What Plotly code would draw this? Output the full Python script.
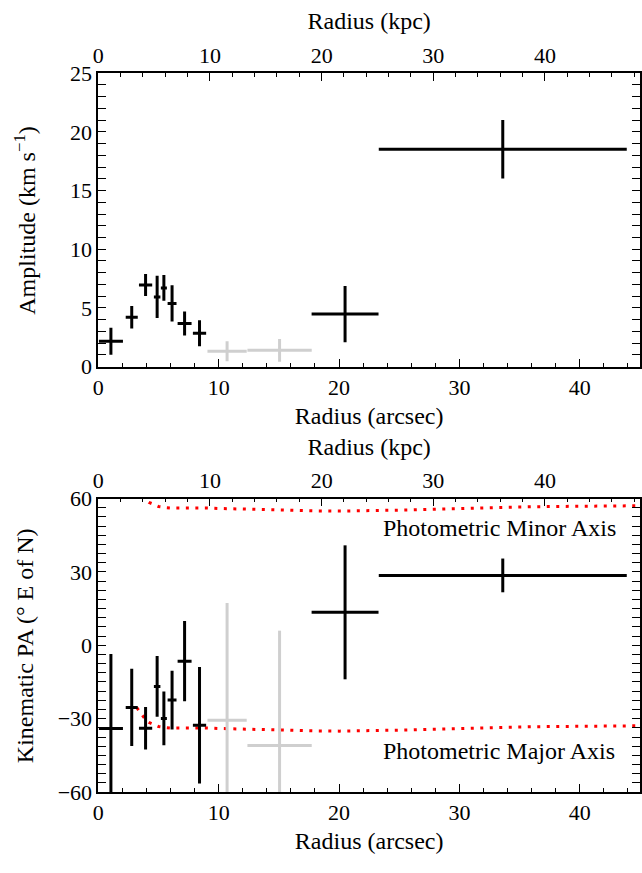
import plotly.graph_objects as go

# ---- data ----
r_arcsec = [1.05, 2.78, 3.93, 4.89, 5.45, 6.13, 7.17, 8.41, 20.5, 33.6]
r_err = [1.0, 0.5, 0.55, 0.27, 0.25, 0.37, 0.58, 0.55, 2.78, 10.3]
amplitude = [2.15, 4.2, 6.95, 5.93, 6.7, 5.38, 3.67, 2.84, 4.47, 18.52]
amplitude_err = [1.15, 0.95, 0.93, 1.8, 1.1, 1.55, 1.03, 1.1, 2.4, 2.5]
kin_pa = [-34.0, -25.4, -33.9, -16.8, -29.9, -22.4, -6.5, -32.7, 13.5, 28.6]
kin_pa_err = [30.5, 15.8, 8.7, 12.4, 11.0, 12.0, 16.4, 23.8, 27.4, 6.9]

r_grey = [10.7, 15.06]
r_grey_err = [1.63, 2.67]
amplitude_grey = [1.3, 1.38]
amplitude_grey_err = [0.85, 0.97]
kin_pa_grey = [-30.7, -41.0]
kin_pa_grey_err = [48.0, 47.0]

r_phot = [3.2, 3.5, 3.8, 4.2, 4.6, 5.0, 5.5, 6.0, 7.0, 8.0, 9.0, 10.0, 12.0, 14.0,
          16.0, 18.0, 20.0, 22.0, 24.0, 26.0, 28.0, 30.0, 32.0, 34.0, 36.0, 38.0,
          40.0, 42.0, 45.0]
pa_major = [-25.5, -27.5, -29.5, -31.5, -32.5, -33.2, -33.6, -33.8, -33.8, -33.7,
            -33.8, -34.0, -34.3, -34.6, -34.8, -35.0, -35.1, -35.0, -34.8, -34.6,
            -34.3, -34.0, -33.7, -33.5, -33.3, -33.2, -33.1, -33.0, -32.9]
pa_minor = [v + 90 for v in pa_major]

KPC_PER_ARCSEC = 1.078
X_MAX = 45

BLACK = "black"
GREY = "#cfcfcf"
FONT = "Liberation Serif"
FS = 22      # tick labels
FT = 24      # titles / annotations


def ebar(x, xe, y, ye, color, xa, ya):
    return go.Scatter(
        x=x, y=y, xaxis=xa, yaxis=ya, mode="markers",
        marker=dict(size=1, color=color, opacity=0),
        error_x=dict(type="data", array=xe, symmetric=True, color=color, thickness=3, width=0),
        error_y=dict(type="data", array=ye, symmetric=True, color=color, thickness=3, width=0),
        showlegend=False, hoverinfo="skip",
    )


fig = go.Figure()
# top panel
fig.add_trace(ebar(r_grey, r_grey_err, amplitude_grey, amplitude_grey_err, GREY, "x", "y"))
fig.add_trace(ebar(r_arcsec, r_err, amplitude, amplitude_err, BLACK, "x", "y"))
fig.add_trace(go.Scatter(x=[0], y=[0], xaxis="x2", yaxis="y", mode="markers",
                         marker=dict(size=1, opacity=0), showlegend=False, hoverinfo="skip"))
# bottom panel
fig.add_trace(go.Scatter(x=r_phot, y=pa_minor, xaxis="x3", yaxis="y3", mode="lines",
                         line=dict(color="red", width=3, dash="3px,6.5px"),
                         showlegend=False, hoverinfo="skip"))
fig.add_trace(go.Scatter(x=r_phot, y=pa_major, xaxis="x3", yaxis="y3", mode="lines",
                         line=dict(color="red", width=3, dash="3px,6.5px"),
                         showlegend=False, hoverinfo="skip"))
fig.add_trace(ebar(r_grey, r_grey_err, kin_pa_grey, kin_pa_grey_err, GREY, "x3", "y3"))
fig.add_trace(ebar(r_arcsec, r_err, kin_pa, kin_pa_err, BLACK, "x3", "y3"))
fig.add_trace(go.Scatter(x=[0], y=[0], xaxis="x4", yaxis="y3", mode="markers",
                         marker=dict(size=1, opacity=0), showlegend=False, hoverinfo="skip"))

W, H = 642, 873
xdom = [94 / W, 640 / W]
ydom_top = [1 - 365 / H, 1 - 63 / H]
ydom_bot = [1 - 803 / H, 1 - 501 / H]

common = dict(
    showline=True, linecolor="black", linewidth=1.6,
    ticks="inside", ticklen=8, tickwidth=1.4, tickcolor="black",
    showgrid=False, zeroline=False,
    tickfont=dict(family=FONT, size=FS, color="black"),
)


def minor(dt):
    return dict(dtick=dt, ticks="inside", ticklen=4, tickwidth=1.2, tickcolor="black", showgrid=False)


def xbot(anchor, title):
    return dict(common, domain=xdom, anchor=anchor, range=[0, X_MAX], dtick=10, tick0=0,
                minor=minor(2), title=dict(text=title, font=dict(family=FONT, size=FT), standoff=8))


def xtop(over, anchor):
    return dict(common, overlaying=over, anchor=anchor, side="top",
                range=[0, X_MAX * KPC_PER_ARCSEC], dtick=10, tick0=0, minor=minor(2),
                title=dict(text="Radius (kpc)", font=dict(family=FONT, size=FT), standoff=6))


fig.update_layout(
    width=W, height=H,
    margin=dict(l=0, r=0, t=0, b=0),
    paper_bgcolor="white", plot_bgcolor="white",
    font=dict(family=FONT, size=FS, color="black"),
    xaxis=xbot("y", "Radius (arcsec)"),
    xaxis2=xtop("x", "y"),
    yaxis=dict(common, domain=ydom_top, anchor="x", range=[0, 25], dtick=5, tick0=0,
               minor=minor(1), mirror="allticks"),
    xaxis3=xbot("y3", "Radius (arcsec)"),
    xaxis4=xtop("x3", "y3"),
    yaxis3=dict(common, domain=ydom_bot, anchor="x3", range=[-60, 60], dtick=30, tick0=0,
                minor=minor(3.75), mirror="allticks"),
    annotations=[
        dict(text="Amplitude (km s<sup>−1</sup>)", textangle=-90,
             x=20 / W, y=(ydom_top[0] + ydom_top[1]) / 2, xref="paper", yref="paper",
             xanchor="center", yanchor="middle", showarrow=False,
             font=dict(family=FONT, size=FT, color="black")),
        dict(text="Kinematic PA (° E of N)", textangle=-90,
             x=20 / W, y=(ydom_bot[0] + ydom_bot[1]) / 2, xref="paper", yref="paper",
             xanchor="center", yanchor="middle", showarrow=False,
             font=dict(family=FONT, size=FT, color="black")),
        dict(text="Photometric Minor Axis", x=33.3, y=47.8, xref="x3", yref="y3",
             showarrow=False, font=dict(family=FONT, size=FT, color="black")),
        dict(text="Photometric Major Axis", x=33.3, y=-43.3, xref="x3", yref="y3",
             showarrow=False, font=dict(family=FONT, size=FT, color="black")),
    ],
)

fig.write_html("out.html", config={"displayModeBar": False},
               post_script="document.body.style.margin='0px';")
